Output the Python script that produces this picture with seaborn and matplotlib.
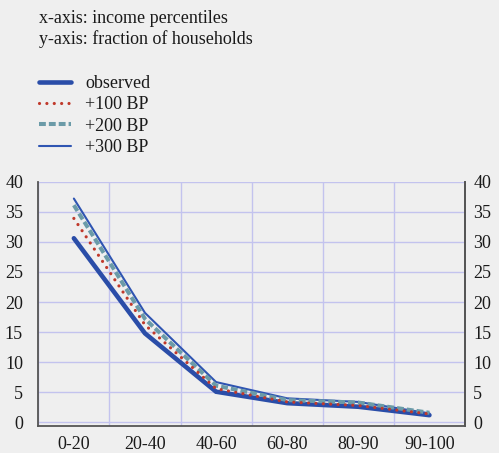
import numpy as np
import pandas as pd
import matplotlib
matplotlib.use("Agg")
import matplotlib.pyplot as plt
from matplotlib.ticker import FixedLocator
import seaborn as sns

# data
categories = ["0-20", "20-40", "40-60", "60-80", "80-90", "90-100"]
observed = [30.6, 14.8, 5.1, 3.2, 2.6, 1.2]
bp100 = [33.9, 16.2, 5.6, 3.4, 2.8, 1.4]
bp200 = [36.1, 17.2, 6.1, 3.7, 3.3, 1.6]
bp300 = [37.2, 18.2, 6.7, 4.0, 3.4, 1.5]
y_ticks = [0, 5, 10, 15, 20, 25, 30, 35, 40]

bg = "#efefef"
grid_col = "#c3c3ee"
axis_col = "#555555"
text_col = "#1a1a1a"

sns.set_style("white")
plt.rcParams["font.family"] = ["Liberation Serif", "DejaVu Serif"]
plt.rcParams["font.size"] = 13
plt.rcParams["text.color"] = text_col
plt.rcParams["xtick.labelcolor"] = text_col
plt.rcParams["ytick.labelcolor"] = text_col

fig = plt.figure(figsize=(4.99, 4.53), dpi=100, facecolor=bg)
ax = fig.add_axes([38.3 / 499, 1 - 426 / 453, (465 - 38.3) / 499, (426 - 181.7) / 453])
ax.set_facecolor(bg)

df = pd.DataFrame({"cat": categories, "observed": observed, "+100 BP": bp100,
                   "+200 BP": bp200, "+300 BP": bp300})

sns.lineplot(data=df, x="cat", y="observed", ax=ax, color="#2a4da8", lw=3.3,
             label="observed", solid_joinstyle="miter", sort=False)
sns.lineplot(data=df, x="cat", y="+300 BP", ax=ax, color="#2f55b2", lw=1.5,
             label="+300 BP", sort=False)
sns.lineplot(data=df, x="cat", y="+200 BP", ax=ax, color="#6b9ba8", lw=2.9,
             linestyle=(0, (1.7, 0.75)), label="+200 BP", sort=False)
sns.lineplot(data=df, x="cat", y="+100 BP", ax=ax, color="#c0392b", lw=2.3,
             linestyle=(0, (0.01, 2.3)), dash_capstyle="round", label="+100 BP", sort=False)

ax.set_xlim(-0.5, len(categories) - 0.5)
ax.set_ylim(-0.6, 40)
ax.set_xlabel("")
ax.set_ylabel("")

# grid: horizontal at y ticks, vertical at category boundaries
ax.set_yticks(y_ticks)
ax.set_xticks(range(len(categories)))
ax.set_xticklabels(categories)
bounds = np.arange(-0.5, len(categories), 1.0)
ax.xaxis.set_minor_locator(FixedLocator(bounds))
ax.yaxis.grid(True, color=grid_col, lw=1.0)
ax.xaxis.grid(True, which="minor", color=grid_col, lw=1.0)
ax.xaxis.grid(False, which="major")
ax.set_axisbelow(True)

ax.tick_params(axis="x", which="major", length=0, pad=7, labelsize=13, labelcolor=text_col)
ax.tick_params(axis="x", which="minor", length=5, width=1.2, color=axis_col, direction="out")
ax.tick_params(axis="y", length=0, pad=11, labelsize=13, labelcolor=text_col)

for side in ["left", "bottom", "right"]:
    ax.spines[side].set_color(axis_col)
    ax.spines[side].set_linewidth(1.3)
ax.spines["top"].set_visible(False)

ax2 = ax.twinx()
ax2.set_ylim(ax.get_ylim())
ax2.set_yticks(y_ticks)
ax2.tick_params(axis="y", length=0, pad=6, labelsize=13, labelcolor=text_col)
for side in ["left", "bottom", "top"]:
    ax2.spines[side].set_visible(False)
ax2.spines["right"].set_color(axis_col)
ax2.spines["right"].set_linewidth(1.3)

# legend in upper-left block of the figure
handles, labels = ax.get_legend_handles_labels()
order = [labels.index(l) for l in ["observed", "+100 BP", "+200 BP", "+300 BP"]]
ax.get_legend().remove()
fig.legend([handles[i] for i in order], [labels[i] for i in order],
           loc="upper left", bbox_to_anchor=(38.5 / 499, 1 - 75 / 453),
           frameon=False, borderpad=0, borderaxespad=0, handlelength=1.8,
           handletextpad=0.8, labelspacing=0.24, fontsize=13, labelcolor=text_col)

fig.text(39.3 / 499, 1 - 18.3 / 453, "x-axis: income percentiles", va="center", fontsize=13)
fig.text(39.3 / 499, 1 - 39.3 / 453, "y-axis: fraction of households", va="center", fontsize=13)

fig.savefig("out.png", dpi=100, facecolor=bg)
